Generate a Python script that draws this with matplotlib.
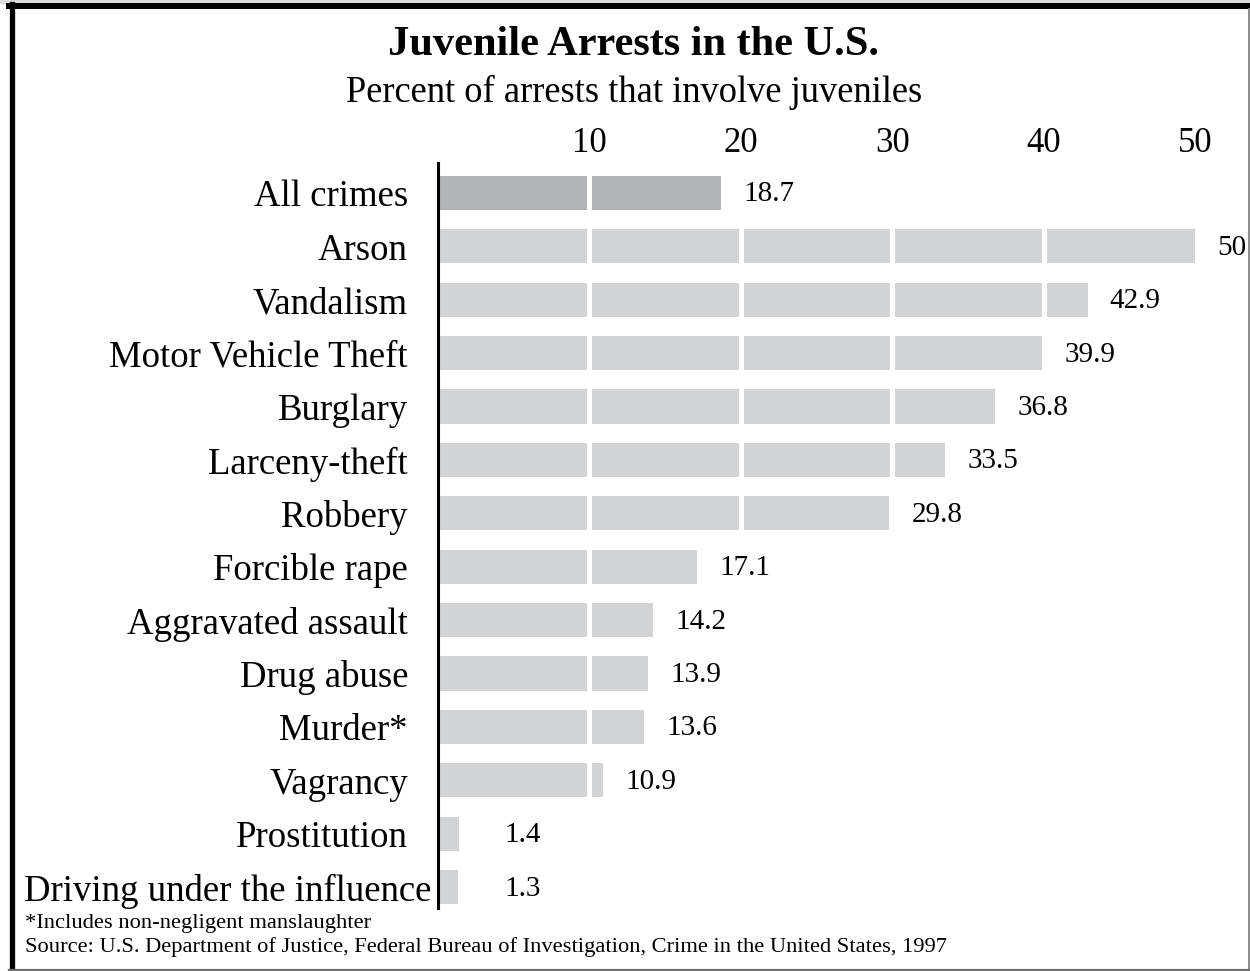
import matplotlib
matplotlib.use("Agg")
import matplotlib.pyplot as plt
from matplotlib.lines import Line2D
from matplotlib.patches import Rectangle

plt.rcParams['font.family'] = ['Liberation Serif', 'DejaVu Serif']

categories = ["All crimes", "Arson", "Vandalism", "Motor Vehicle Theft", "Burglary",
              "Larceny-theft", "Robbery", "Forcible rape", "Aggravated assault",
              "Drug abuse", "Murder*", "Vagrancy", "Prostitution",
              "Driving under the influence"]
values = [18.7, 50, 42.9, 39.9, 36.8, 33.5, 29.8, 17.1, 14.2, 13.9, 13.6, 10.9, 1.4, 1.3]
value_labels = ["18.7", "50", "42.9", "39.9", "36.8", "33.5", "29.8", "17.1", "14.2",
                "13.9", "13.6", "10.9", "1.4", "1.3"]
ticks = [10, 20, 30, 40, 50]
tick_labels = ["10", "20", "30", "40", "50"]

title = "Juvenile Arrests in the U.S."
subtitle = "Percent of arrests that involve juveniles"
footnote = "*Includes non-negligent manslaughter"
source = "Source: U.S. Department of Justice, Federal Bureau of Investigation, Crime in the United States, 1997"

W, H = 1250, 971
fig = plt.figure(figsize=(W / 100, H / 100), dpi=100)
fig.patch.set_facecolor("white")

# axes placement in pixels
ax_left, ax_right = 438, 1195
ax_top, ax_bottom = 163, 908
ax = fig.add_axes([ax_left / W, 1 - ax_bottom / H, (ax_right - ax_left) / W, (ax_bottom - ax_top) / H])

ypos = list(range(len(categories)))
colors = ["#b1b3b6"] + ["#d1d3d4"] * (len(categories) - 1)
ax.barh(ypos, values, height=0.64, color=colors, zorder=2)

# white gaps at tick positions
for t in ticks[:-1]:
    ax.axvline(t, color="white", lw=3.6, zorder=3)

ax.set_xlim(0, 50)
ax.set_ylim(len(categories) - 1 + 0.39, -0.56)

for s in ["top", "right", "bottom"]:
    ax.spines[s].set_visible(False)
ax.spines["left"].set_linewidth(2.2)
ax.spines["left"].set_color("black")
ax.spines["left"].set_zorder(5)

ax.xaxis.tick_top()
ax.set_xticks(ticks)
ax.set_xticklabels(tick_labels, fontsize=25)
ax.tick_params(axis="x", length=0, pad=2)
ax.set_yticks([])
ax.set_facecolor("none")

# category labels
for i, lab in enumerate(categories):
    pad = -30 if i < len(categories) - 1 else -7
    ax.annotate(lab, xy=(0, i), xycoords=("axes fraction", "data"),
                xytext=(pad * 0.72, -3), textcoords="offset points",
                ha="right", va="center", fontsize=26.5)

# value labels
for i, (v, lab) in enumerate(zip(values, value_labels)):
    ax.annotate(lab, xy=(max(v, 2.9), i), xycoords="data",
                xytext=(16, -1), textcoords="offset points",
                ha="left", va="center", fontsize=21, annotation_clip=False)

# titles
fig.text(634 / W, 1 - 55 / H, title, ha="center", va="baseline",
         fontsize=30.5, fontweight="bold")
fig.text(634 / W, 1 - 102 / H, subtitle, ha="center", va="baseline", fontsize=26.3)

# footnotes
fig.text(25 / W, 1 - 928 / H, footnote, ha="left", va="baseline", fontsize=16.2)
fig.text(25 / W, 1 - 952 / H, source, ha="left", va="baseline", fontsize=16.2)

# frame
fig.patches.append(Rectangle((0, 1 - 4 / H), 1, 4 / H, transform=fig.transFigure,
                             facecolor="#dcdcdc", edgecolor="none", zorder=0))
fig.lines.append(Line2D([9 / W, 1249 / W], [1 - 6.5 / H, 1 - 6.5 / H],
                        transform=fig.transFigure, color="black", lw=4.3))
fig.lines.append(Line2D([11.5 / W, 11.5 / W], [0, 1 - 4 / H],
                        transform=fig.transFigure, color="black", lw=3.8))
fig.lines.append(Line2D([1248.5 / W, 1248.5 / W], [0, 1 - 9 / H],
                        transform=fig.transFigure, color="#8a8a8a", lw=1.4))
fig.lines.append(Line2D([9 / W, 1249 / W], [1.5 / H, 1.5 / H],
                        transform=fig.transFigure, color="#707070", lw=1.6))

fig.savefig("out.png", dpi=100)
